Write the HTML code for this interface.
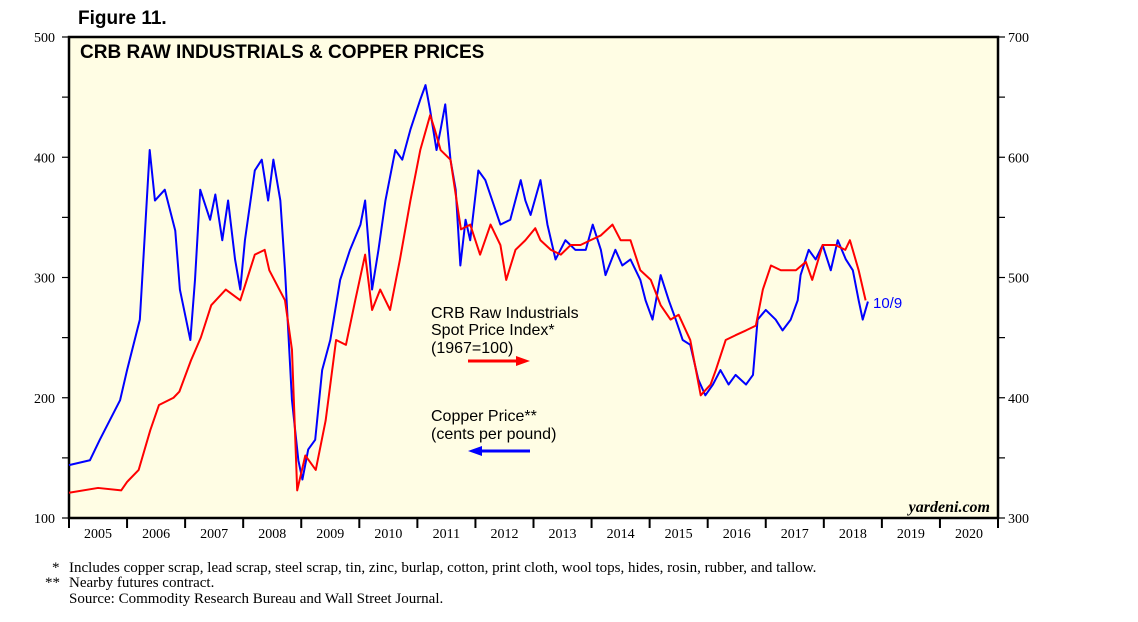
<!DOCTYPE html>
<html><head><meta charset="utf-8"><style>
body{margin:0;background:#fff;width:1138px;height:622px;overflow:hidden}
svg{display:block}
.serif{font-family:"Liberation Serif",serif}
.sans{font-family:"Liberation Sans",sans-serif}
</style></head><body>
<svg id="chart" width="1138" height="622">
<text x="78" y="24" class="sans" font-size="19" font-weight="bold">Figure 11.</text>
<rect x="69" y="37" width="929" height="481" fill="#fffde4" stroke="#000" stroke-width="2.5"/>
<text x="80" y="58" class="sans" font-size="19" font-weight="bold">CRB RAW INDUSTRIALS &amp; COPPER PRICES</text>
<g id="axes"></g>
<g id="series"></g>
<text x="431" y="318" class="sans" font-size="16">CRB Raw Industrials</text>
<text x="431" y="335" class="sans" font-size="16">Spot Price Index*</text>
<text x="431" y="353" class="sans" font-size="16">(1967=100)</text>
<g><line x1="468" y1="361" x2="518" y2="361" stroke="#f00" stroke-width="3"/><polygon points="516,356 530,361 516,366" fill="#f00"/></g>
<text x="431" y="421" class="sans" font-size="16">Copper Price**</text>
<text x="431" y="439" class="sans" font-size="16">(cents per pound)</text>
<g><line x1="480" y1="451" x2="530" y2="451" stroke="#00f" stroke-width="3"/><polygon points="482,446 468,451 482,456" fill="#00f"/></g>
<text x="873" y="308" class="sans" font-size="15" fill="#00f">10/9</text>
<text x="990" y="512" class="serif" font-size="16" font-style="italic" font-weight="bold" text-anchor="end">yardeni.com</text>
<text x="52" y="572" class="serif" font-size="15">*</text>
<text x="69" y="572" class="serif" font-size="15">Includes copper scrap, lead scrap, steel scrap, tin, zinc, burlap, cotton, print cloth, wool tops, hides, rosin, rubber, and tallow.</text>
<text x="45" y="587" class="serif" font-size="15">**</text>
<text x="69" y="587" class="serif" font-size="15">Nearby futures contract.</text>
<text x="69" y="603" class="serif" font-size="15">Source: Commodity Research Bureau and Wall Street Journal.</text>
</svg>
<script>
const leftTicks=[100,200,300,400,500];
const rightTicks=[300,400,500,600,700];
const years=[2005,2006,2007,2008,2009,2010,2011,2012,2013,2014,2015,2016,2017,2018,2019,2020];
const crbT=[2005.0,2005.5,2005.9,2006.0,2006.2,2006.4,2006.55,2006.8,2006.9,2007.1,2007.27,2007.45,2007.7,2007.95,2008.2,2008.37,2008.45,2008.72,2008.84,2008.93,2009.07,2009.25,2009.42,2009.6,2009.77,2009.93,2010.1,2010.22,2010.36,2010.53,2010.7,2010.88,2011.05,2011.22,2011.3,2011.4,2011.57,2011.75,2011.91,2012.08,2012.26,2012.43,2012.53,2012.69,2012.86,2013.03,2013.12,2013.3,2013.47,2013.64,2013.81,2013.98,2014.16,2014.36,2014.5,2014.67,2014.84,2015.02,2015.19,2015.36,2015.5,2015.7,2015.88,2016.05,2016.14,2016.31,2016.48,2016.66,2016.83,2016.95,2017.09,2017.26,2017.52,2017.69,2017.8,2017.98,2018.2,2018.37,2018.45,2018.6,2018.72];
const crbV=[121,125,123,130,140,173,194,200,205,231,250,277,290,281,319,323,306,281,240,123,152,140,181,248,244,281,319,273,290,273,315,364,406,435,423,406,398,340,344,319,344,327,298,323,331,341,331,323,319,327,327,331,335,344,331,331,306,298,277,265,269,248,202,211,223,248,252,256,260,290,310,306,306,313,298,327,327,323,331,306,281];
const cuT=[2005.0,2005.36,2005.53,2005.7,2005.88,2006.0,2006.22,2006.3,2006.39,2006.48,2006.65,2006.83,2006.91,2007.09,2007.17,2007.26,2007.43,2007.52,2007.64,2007.74,2007.86,2007.95,2008.03,2008.2,2008.32,2008.43,2008.52,2008.64,2008.72,2008.84,2008.95,2009.02,2009.12,2009.24,2009.36,2009.5,2009.67,2009.84,2010.02,2010.1,2010.22,2010.33,2010.45,2010.62,2010.74,2010.88,2011.05,2011.14,2011.22,2011.33,2011.4,2011.48,2011.57,2011.66,2011.74,2011.83,2011.91,2012.05,2012.17,2012.29,2012.43,2012.6,2012.78,2012.86,2012.95,2013.12,2013.24,2013.38,2013.55,2013.72,2013.9,2014.02,2014.16,2014.24,2014.41,2014.53,2014.67,2014.84,2014.93,2015.05,2015.19,2015.33,2015.45,2015.57,2015.7,2015.84,2015.96,2016.09,2016.22,2016.36,2016.48,2016.66,2016.78,2016.86,2017.0,2017.17,2017.29,2017.43,2017.55,2017.6,2017.74,2017.86,2017.98,2018.12,2018.24,2018.38,2018.5,2018.6,2018.67,2018.76];
const cuV=[344,348,365,381,398,423,465,531,606,564,573,539,490,448,498,573,548,569,531,564,515,490,531,589,598,564,598,564,506,398,348,332,357,365,423,448,498,523,544,564,490,523,564,606,598,623,648,660,639,606,623,644,598,573,510,548,531,589,581,564,544,548,581,564,552,581,544,515,531,523,523,544,523,502,523,510,515,498,481,465,502,481,465,448,444,415,402,411,423,411,419,411,419,465,473,465,456,465,481,502,523,515,527,506,531,515,506,481,465,480];
const X0=69,X1=998,Y0=518,Y1=37;
const xS=t=>X0+(t-2005)/16*(X1-X0);
const yL=v=>Y0-(v-100)/400*(Y0-Y1);
const yR=v=>Y0-(v-300)/400*(Y0-Y1);
const NS="http://www.w3.org/2000/svg";
const ax=document.getElementById('axes'),se=document.getElementById('series');
function mk(tag,at,parent){const e=document.createElementNS(NS,tag);for(const k in at)e.setAttribute(k,at[k]);parent.appendChild(e);return e;}
for(let v=100;v<=500;v+=50){
  const l=mk('line',{x1:62,x2:X0,y1:yL(v),y2:yL(v),stroke:'#000','stroke-width':1.2},ax);
  
  
  const r=mk('line',{x1:X1,x2:1005,y1:yL(v),y2:yL(v),stroke:'#000','stroke-width':1.2},ax);
  
  
}
leftTicks.forEach(v=>{const t=mk('text',{x:55,y:yL(v)+5,'text-anchor':'end','font-size':14,'class':'serif'},ax);t.textContent=v;
  
  });
rightTicks.forEach(v=>{const t=mk('text',{x:1008,y:yR(v)+5,'font-size':14,'class':'serif'},ax);t.textContent=v;
  
  });
for(let y=2005;y<=2021;y++){const l=mk('line',{x1:xS(y),x2:xS(y),y1:Y0,y2:Y0+10,stroke:'#000','stroke-width':2},ax);
  
  }
years.forEach(y=>{const t=mk('text',{x:xS(y+0.5),y:538,'text-anchor':'middle','font-size':14,'class':'serif'},ax);t.textContent=y;
  
  });
const cu=mk('polyline',{points:cuT.map((t,i)=>xS(t)+','+yR(cuV[i])).join(' '),fill:'none',stroke:'#00f','stroke-width':2,'stroke-linejoin':'round'},se);


const crb=mk('polyline',{points:crbT.map((t,i)=>xS(t)+','+yL(crbV[i])).join(' '),fill:'none',stroke:'#f00','stroke-width':2,'stroke-linejoin':'round'},se);


</script>
</body></html>
